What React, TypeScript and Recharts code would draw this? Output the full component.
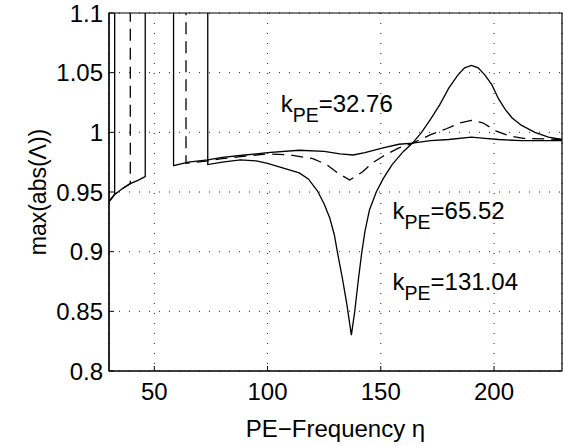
import React from 'react';
import { LineChart, Line, XAxis, YAxis, CartesianGrid, ReferenceArea, ReferenceDot, Label } from 'recharts';

// PE-frequency eta vs max(abs(Lambda)), one series per k_PE
const xTicks = [50, 100, 150, 200];
const yTicks = [0.8, 0.85, 0.9, 0.95, 1, 1.05, 1.1];

// k_PE = 32.76 (solid, nearly flat)
const k32 = [
    { x: 30, y: 0.942 }, { x: 32.5, y: 0.948 }, { x: 36, y: 0.953 }, { x: 39.4, y: 0.957 },
    { x: 43, y: 0.960 }, { x: 46, y: 0.963 }, { x: 46, y: 1.3 }, { x: 58.5, y: 1.3 },
    { x: 58.5, y: 0.972 }, { x: 65, y: 0.975 }, { x: 73.6, y: 0.977 }, { x: 80, y: 0.979 },
    { x: 90, y: 0.981 }, { x: 100, y: 0.983 }, { x: 114, y: 0.985 }, { x: 125, y: 0.984 },
    { x: 132, y: 0.982 }, { x: 137.8, y: 0.981 }, { x: 143, y: 0.983 }, { x: 151, y: 0.987 },
    { x: 158, y: 0.990 }, { x: 164, y: 0.991 }, { x: 172, y: 0.993 }, { x: 180, y: 0.994 },
    { x: 190, y: 0.996 }, { x: 196, y: 0.995 }, { x: 202, y: 0.994 }, { x: 212, y: 0.993 },
    { x: 230, y: 0.993 },
];

// k_PE = 65.52 (dashed)
const k65 = [
    { x: 30, y: 0.942 }, { x: 32.5, y: 0.948 }, { x: 36, y: 0.953 }, { x: 39.4, y: 0.957 },
    { x: 39.4, y: 1.3 }, { x: 64, y: 1.3 }, { x: 64, y: 0.974 }, { x: 73.6, y: 0.976 },
    { x: 80, y: 0.978 }, { x: 90, y: 0.980 }, { x: 100, y: 0.982 }, { x: 110, y: 0.981 },
    { x: 120, y: 0.978 }, { x: 126, y: 0.973 }, { x: 131, y: 0.966 }, { x: 136.3, y: 0.960 },
    { x: 142, y: 0.967 }, { x: 146, y: 0.974 }, { x: 151, y: 0.980 }, { x: 158, y: 0.987 },
    { x: 164, y: 0.991 }, { x: 172, y: 0.998 }, { x: 179, y: 1.003 }, { x: 185, y: 1.008 },
    { x: 190, y: 1.010 }, { x: 195, y: 1.008 }, { x: 201, y: 1.001 }, { x: 207, y: 0.997 },
    { x: 213, y: 0.995 }, { x: 230, y: 0.994 },
];

// k_PE = 131.04 (solid, deep dip)
const k131 = [
    { x: 30, y: 0.942 }, { x: 32.5, y: 0.948 }, { x: 32.5, y: 1.3 }, { x: 73.6, y: 1.3 },
    { x: 73.6, y: 0.973 }, { x: 80, y: 0.975 }, { x: 88, y: 0.977 }, { x: 95, y: 0.976 },
    { x: 100, y: 0.974 }, { x: 107, y: 0.970 }, { x: 114, y: 0.966 }, { x: 118, y: 0.961 },
    { x: 122, y: 0.951 }, { x: 125, y: 0.940 }, { x: 127.5, y: 0.928 }, { x: 129.5, y: 0.914 },
    { x: 131, y: 0.898 }, { x: 133, y: 0.878 }, { x: 135, y: 0.856 }, { x: 137, y: 0.830 },
    { x: 138.5, y: 0.850 }, { x: 140, y: 0.875 }, { x: 141.5, y: 0.898 }, { x: 143, y: 0.917 },
    { x: 145, y: 0.935 }, { x: 148, y: 0.950 }, { x: 151, y: 0.961 }, { x: 155, y: 0.973 },
    { x: 160, y: 0.984 }, { x: 164, y: 0.991 }, { x: 168, y: 1.000 }, { x: 172, y: 1.011 },
    { x: 176, y: 1.023 }, { x: 180, y: 1.037 }, { x: 184, y: 1.048 }, { x: 187, y: 1.054 },
    { x: 190, y: 1.056 }, { x: 193, y: 1.054 }, { x: 196, y: 1.048 }, { x: 199, y: 1.040 },
    { x: 202, y: 1.028 }, { x: 205, y: 1.019 }, { x: 208, y: 1.012 }, { x: 212, y: 1.006 },
    { x: 218, y: 1.000 }, { x: 224, y: 0.996 }, { x: 230, y: 0.994 },
];

const annotations = [
    { x: 105.8, y: 1.017, value: '32.76' },
    { x: 155.2, y: 0.927, value: '65.52' },
    { x: 155.2, y: 0.868, value: '131.04' },
];

const font = '"Liberation Sans", Arial, Helvetica, sans-serif';

const KLabel = (props: any) => {
    const { cx, cy, value } = props;
    return (
        <text x={cx} y={cy} fontFamily={font} fontSize={24} fill="#000">
            <tspan>k</tspan>
            <tspan dy={10} fontSize={19.5}>PE</tspan>
            <tspan dy={-10}>={value}</tspan>
        </text>
    );
};

const App = () => {
    return (
        <div style={{ position: 'absolute', left: 0, top: 0, background: '#fff' }}>
            <LineChart
                width={563}
                height={446}
                margin={{ top: 13, right: 1, left: 0, bottom: 0 }}
            >
                <CartesianGrid stroke="#222" strokeDasharray="1 9" />
                <XAxis
                    dataKey="x"
                    type="number"
                    domain={[30, 230]}
                    ticks={xTicks}
                    allowDataOverflow
                    height={75}
                    tickSize={-5}
                    tickMargin={17}
                    tickLine={{ stroke: '#000' }}
                    axisLine={{ stroke: '#000', strokeWidth: 1.2 }}
                    tick={{ fill: '#000', fontSize: 24, fontFamily: font }}
                >
                    <Label value="PE−Frequency η" position="insideBottom" offset={9} fill="#000" fontSize={24} fontFamily={font} />
                </XAxis>
                <XAxis
                    xAxisId="top"
                    orientation="top"
                    dataKey="x"
                    type="number"
                    domain={[30, 230]}
                    ticks={xTicks}
                    allowDataOverflow
                    height={0}
                    tickSize={-5}
                    tickLine={{ stroke: '#000' }}
                    axisLine={false}
                    tick={{ fill: 'none' }}
                />
                <YAxis
                    type="number"
                    domain={[0.8, 1.1]}
                    ticks={yTicks}
                    allowDataOverflow
                    width={109}
                    tickSize={-5}
                    tickMargin={11}
                    tickLine={{ stroke: '#000' }}
                    axisLine={{ stroke: '#000', strokeWidth: 1.2 }}
                    tick={{ fill: '#000', fontSize: 24, fontFamily: font }}
                >
                    <Label value="max(abs(Λ))" angle={-90} position="insideLeft" offset={38} fill="#000" fontSize={23} fontFamily={font} style={{ textAnchor: 'middle' }} />
                </YAxis>
                <YAxis
                    yAxisId="right"
                    orientation="right"
                    type="number"
                    domain={[0.8, 1.1]}
                    ticks={yTicks}
                    allowDataOverflow
                    width={0}
                    tickSize={-5}
                    tickLine={{ stroke: '#000' }}
                    axisLine={false}
                    tick={{ fill: 'none' }}
                />
                <ReferenceArea x1={30} x2={230} y1={0.8} y2={1.1} fill="none" stroke="#000" strokeWidth={1.2} />
                <Line data={k32} dataKey="y" type="linear" stroke="#000" strokeWidth={1.3} dot={false} isAnimationActive={false} />
                <Line data={k65} dataKey="y" type="linear" stroke="#000" strokeWidth={1.3} strokeDasharray="12 7" dot={false} isAnimationActive={false} />
                <Line data={k131} dataKey="y" type="linear" stroke="#000" strokeWidth={1.3} dot={false} isAnimationActive={false} />
                {annotations.map(a => (
                    <ReferenceDot key={a.value} x={a.x} y={a.y} r={0} shape={(p: any) => <KLabel {...p} value={a.value} />} />
                ))}
            </LineChart>
        </div>
    );
};

export default App;
